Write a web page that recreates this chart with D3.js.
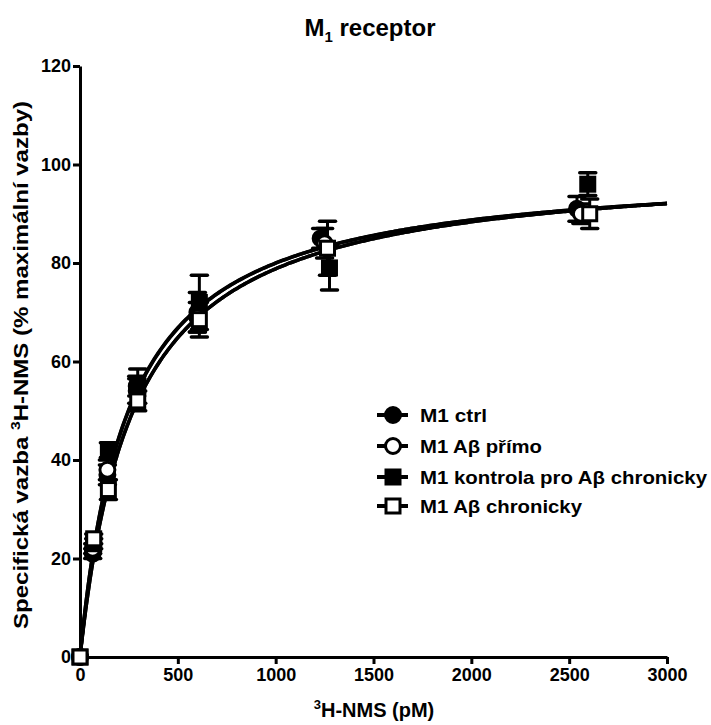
<!DOCTYPE html>
<html>
<head>
<meta charset="utf-8">
<script src="https://cdn.jsdelivr.net/npm/d3@7"></script>
<style>
    body { margin: 0; background: #fff; }
    text { font-family: "Liberation Sans", Arial, sans-serif; font-weight: bold; fill: #000; }
    .axis path, .axis line { stroke: #000; stroke-width: 3px; }
    .axis text { font-size: 18px; }
</style>
</head>
<body>
<div id="chart"></div>
<script>
    // series names and markers
    var seriesNames = ["M1 ctrl", "M1 A\u03b2 p\u0159\u00edmo", "M1 kontrola pro A\u03b2 chronicky", "M1 A\u03b2 chronicky"];
    var seriesShape = ["circle", "circle", "square", "square"];
    var seriesFilled = [true, false, true, false];

    // concentrations (pM) per series
    var xCtrl = [0, 65, 140, 290, 600, 1230, 2540];
    var xPrimo = [0, 65, 140, 290, 600, 1250, 2560];
    var xKontrola = [0, 70, 145, 295, 610, 1275, 2595];
    var xChron = [0, 70, 145, 295, 610, 1265, 2605];

    // specific binding (% max) and SEM
    var yCtrl = [0, 21, 37, 54, 70, 85, 91];
    var eCtrl = [0, 1, 2, 2.5, 4, 2, 2.5];
    var yPrimo = [0, 22, 38, 55, 69, 84, 90];
    var ePrimo = [0, 1, 2, 2, 3, 3, 2];
    var yKontrola = [0, 23, 42, 55, 72, 79, 96];
    var eKontrola = [0, 1, 1.5, 3.5, 5.5, 4.5, 2.3];
    var yChron = [0, 24, 34, 52, 68.5, 83, 90];
    var eChron = [0, 1, 2, 2, 3.5, 5.5, 3];

    // fitted one-site binding parameters (Bmax, Kd)
    var fitBmax = [99.6, 100.5, 99.7, 100.5];
    var fitKd = [245, 275, 247, 275];

    var xTicks = [0, 500, 1000, 1500, 2000, 2500, 3000];
    var yTicks = [0, 20, 40, 60, 80, 100, 120];

    var xs = [xCtrl, xPrimo, xKontrola, xChron];
    var ys = [yCtrl, yPrimo, yKontrola, yChron];
    var es = [eCtrl, ePrimo, eKontrola, eChron];

    var width = 711, height = 725;

    var svg = d3.select("#chart").append("svg")
        .attr("width", width)
        .attr("height", height);

    var x = d3.scaleLinear().domain([0, 3000]).range([80, 667]);
    var y = d3.scaleLinear().domain([0, 120]).range([657, 66]);

    // title
    var title = svg.append("text")
        .attr("x", 370).attr("y", 36)
        .attr("text-anchor", "middle")
        .style("font-size", "24px");
    title.append("tspan").text("M");
    title.append("tspan").attr("dy", 6).style("font-size", "15px").text("1");
    title.append("tspan").attr("dy", -6).text(" receptor");

    // axes
    svg.append("g").attr("class", "axis")
        .attr("transform", "translate(0," + y(0) + ")")
        .call(d3.axisBottom(x).tickValues(xTicks).tickFormat(d3.format("d"))
            .tickSize(7).tickSizeOuter(0).tickPadding(4));

    svg.append("g").attr("class", "axis")
        .attr("transform", "translate(" + x(0) + ",0)")
        .call(d3.axisLeft(y).tickValues(yTicks).tickFormat(d3.format("d"))
            .tickSize(7).tickSizeOuter(0).tickPadding(2));

    // axis titles
    var xt = svg.append("text")
        .attr("x", 374).attr("y", 717)
        .attr("text-anchor", "middle")
        .style("font-size", "20px");
    xt.append("tspan").attr("dy", -8).style("font-size", "13px").text("3");
    xt.append("tspan").attr("dy", 8).text("H-NMS (pM)");

    var yt = svg.append("text")
        .attr("transform", "translate(28,365) rotate(-90)")
        .attr("text-anchor", "middle")
        .attr("textLength", 528)
        .attr("lengthAdjust", "spacingAndGlyphs")
        .style("font-size", "20px");
    yt.append("tspan").text("Specifick\u00e1 vazba ");
    yt.append("tspan").attr("dy", -8).style("font-size", "13px").text("3");
    yt.append("tspan").attr("dy", 8).text("H-NMS (% maxim\u00e1ln\u00ed vazby)");

    // fitted curves
    var line = d3.line().x(function (d) { return x(d[0]); }).y(function (d) { return y(d[1]); });
    var curveX = d3.range(0, 3001, 10);
    fitBmax.forEach(function (b, i) {
        var pts = curveX.map(function (c) { return [c, b * c / (fitKd[i] + c)]; });
        svg.append("path")
            .attr("d", line(pts))
            .attr("fill", "none")
            .attr("stroke", "#000")
            .attr("stroke-width", 3.5);
    });

    function drawMarker(g, shape, filled, cx, cy) {
        if (shape === "circle") {
            g.append("circle").attr("cx", cx).attr("cy", cy).attr("r", 7.5)
                .attr("fill", filled ? "#000" : "#fff")
                .attr("stroke", "#000").attr("stroke-width", 3);
        } else {
            g.append("rect").attr("x", cx - 7).attr("y", cy - 7)
                .attr("width", 14).attr("height", 14)
                .attr("fill", filled ? "#000" : "#fff")
                .attr("stroke", "#000").attr("stroke-width", 3);
        }
    }

    // error bars and points
    var pts = svg.append("g");
    xs.forEach(function (xv, i) {
        xv.forEach(function (c, j) {
            var e = es[i][j];
            if (e > 0) {
                var top = y(ys[i][j] + e), bot = y(ys[i][j] - e), px = x(c);
                pts.append("line").attr("x1", px).attr("x2", px).attr("y1", top).attr("y2", bot)
                    .attr("stroke", "#000").attr("stroke-width", 3);
                [top, bot].forEach(function (yy) {
                    pts.append("line").attr("x1", px - 8).attr("x2", px + 8).attr("y1", yy).attr("y2", yy)
                        .attr("stroke", "#000").attr("stroke-width", 3.5).attr("stroke-linecap", "round");
                });
            }
        });
    });
    xs.forEach(function (xv, i) {
        xv.forEach(function (c, j) {
            drawMarker(pts, seriesShape[i], seriesFilled[i], x(c), y(ys[i][j]));
        });
    });

    // legend
    var legend = svg.append("g");
    var legendY = [415, 446, 477, 506];
    var legendLen = [67, 122, 287, 162];
    seriesNames.forEach(function (name, i) {
        var ly = legendY[i];
        legend.append("line").attr("x1", 377).attr("x2", 408).attr("y1", ly).attr("y2", ly)
            .attr("stroke", "#000").attr("stroke-width", 4);
        drawMarker(legend, seriesShape[i], seriesFilled[i], 393, ly);
        legend.append("text").attr("x", 420).attr("y", ly + 7)
            .attr("textLength", legendLen[i])
            .attr("lengthAdjust", "spacingAndGlyphs")
            .style("font-size", "19px").text(name);
    });
</script>
</body>
</html>
